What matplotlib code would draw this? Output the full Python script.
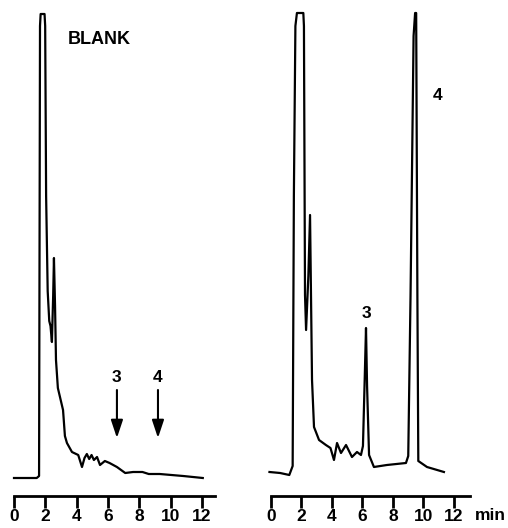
import matplotlib
matplotlib.use("Agg")
import matplotlib.pyplot as plt

plt.rcParams['font.family'] = ['Liberation Sans', 'DejaVu Sans']

# blank chromatogram (time in min, detector signal in arbitrary units)
blank_t = [0.0, 1.45, 1.6, 1.66, 1.7, 1.95, 1.99, 2.05, 2.15, 2.25, 2.33, 2.42, 2.5, 2.55,
           2.62, 2.68, 2.8, 3.13, 3.25, 3.38, 3.7, 4.1, 4.34, 4.5, 4.65, 4.8, 4.95, 5.1,
           5.3, 5.49, 5.8, 6.1, 6.57, 7.1, 7.6, 8.2, 8.6, 9.3, 10.8, 12.05]
blank_s = [18, 18, 20, 470, 482, 482, 470, 300, 205, 175, 170, 154, 200, 238,
           190, 136, 108, 86, 60, 53, 44, 41, 29, 38, 42, 37, 41, 36,
           39, 31, 35, 33, 29, 23, 24, 24, 22, 22, 20, 18]

# sample chromatogram
samp_t = [-0.1, 0.6, 1.2, 1.42, 1.5, 1.6, 1.7, 2.12, 2.16, 2.23, 2.3, 2.45, 2.56, 2.69,
          2.82, 3.15, 3.6, 3.9, 4.13, 4.33, 4.59, 4.92, 5.31, 5.64, 5.9, 6.03, 6.15, 6.23,
          6.3, 6.43, 6.75, 7.6, 8.85, 9.0, 9.15, 9.35, 9.45, 9.52, 9.6, 9.66, 10.23, 11.34]
samp_s = [24, 23, 21, 30, 300, 470, 483, 483, 470, 201, 166, 220, 281, 116,
          69, 56, 51, 48, 36, 53, 43, 51, 39, 44, 41, 50, 120, 168,
          110, 41, 29, 31, 33, 40, 200, 460, 483, 483, 200, 35, 29, 24]

ticks = [0, 2, 4, 6, 8, 10, 12]
peak_labels = ["3", "4"]
blank_marks = [6.57, 9.19]      # expected retention of peaks 3 and 4
sample_label_pos = [(6.23, 183), (10.9, 401)]

fig = plt.figure(figsize=(5.08, 5.28), dpi=100)
axL = fig.add_axes([14/508, 32/528, 201/508, 484/528])
axR = fig.add_axes([271/508, 32/528, 199/508, 484/528])

for ax, xmax in ((axL, 12.83), (axR, 13.05)):
    ax.set_xlim(0, xmax)
    ax.set_ylim(0, 484)
    for sp in ('left', 'right', 'top'):
        ax.spines[sp].set_visible(False)
    ax.spines['bottom'].set_linewidth(2)
    ax.set_yticks([])
    ax.set_xticks(ticks)
    ax.set_xticklabels([str(t) for t in ticks], fontsize=12.5, fontweight='bold')
    ax.tick_params(axis='x', direction='out', length=8.5, width=2, pad=1)

axL.plot(blank_t, blank_s, color='black', lw=1.6, clip_on=False)
axR.plot(samp_t, samp_s, color='black', lw=1.6, clip_on=False)

axL.text(3.45, 456, "BLANK", fontsize=13, fontweight='bold', va='center', ha='left')

for lab, t in zip(peak_labels, blank_marks):
    axL.text(t, 118, lab, fontsize=12.5, fontweight='bold', ha='center', va='center')
    axL.annotate('', xy=(t, 58), xytext=(t, 106),
                 arrowprops=dict(arrowstyle='-|>,head_length=0.9,head_width=0.3',
                                 color='black', lw=1.5, mutation_scale=12,
                                 shrinkA=0, shrinkB=0))

for lab, (t, s) in zip(peak_labels, sample_label_pos):
    axR.text(t, s, lab, fontsize=12.5, fontweight='bold', ha='center', va='center')

fig.text(490/508, 1 - 516/528, "min", fontsize=12.5, fontweight='bold', ha='center', va='center')

fig.savefig("out.png", dpi=100)
